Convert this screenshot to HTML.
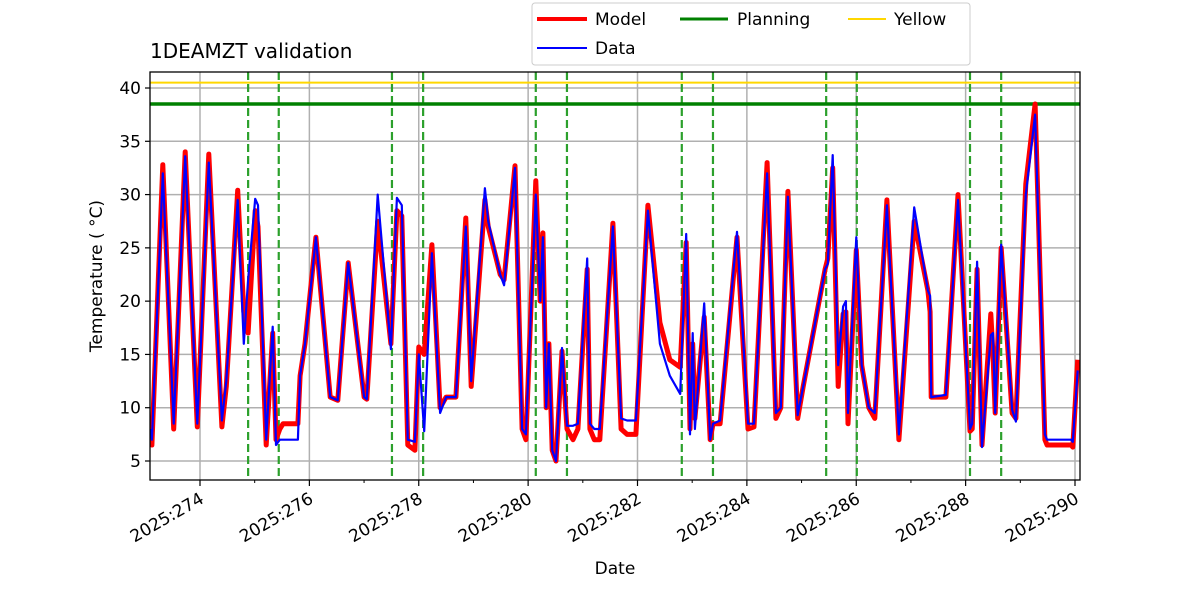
<!DOCTYPE html>
<html><head><meta charset="utf-8"><style>
body{margin:0;background:#fff;}
svg{display:block;font-family:"DejaVu Sans","Liberation Sans",sans-serif;}
</style></head><body>
<svg id="chart" width="1200" height="600" viewBox="0 0 1200 600">
<defs><clipPath id="clip"><rect x="150" y="72" width="930" height="408"/></clipPath></defs>
<g id="grid"></g>
<g id="marks" clip-path="url(#clip)"></g>
<rect x="150" y="72" width="930" height="408" fill="none" stroke="#000" stroke-width="1.3"/>
<g id="axes"></g>
<text x="150" y="58" font-size="20">1DEAMZT validation</text>
<text x="615" y="574" font-size="17" text-anchor="middle">Date</text>
<text transform="translate(102,276) rotate(-90)" font-size="17" text-anchor="middle">Temperature ( °C)</text>
<g>
<rect x="532" y="3" width="438" height="62" rx="3" fill="#fff" stroke="#ccc"/>
<line x1="537" y1="19" x2="587" y2="19" stroke="red" stroke-width="4"/>
<text x="595" y="25" font-size="17">Model</text>
<line x1="537" y1="48" x2="587" y2="48" stroke="blue" stroke-width="2"/>
<text x="595" y="54" font-size="17">Data</text>
<line x1="680" y1="19" x2="728" y2="19" stroke="green" stroke-width="3"/>
<text x="737" y="25" font-size="17">Planning</text>
<line x1="848" y1="19" x2="886" y2="19" stroke="gold" stroke-width="2"/>
<text x="894" y="25" font-size="17">Yellow</text>
</g>
</svg>
<script>
const times=[273.09,273.12,273.32,273.52,273.73,273.95,274.16,274.40,274.48,274.69,274.80,274.88,275.01,275.06,275.21,275.33,275.39,275.46,275.52,275.79,275.83,275.92,276.12,276.38,276.52,276.71,277.00,277.05,277.25,277.49,277.60,277.69,277.80,277.93,278.00,278.10,278.24,278.39,278.50,278.68,278.86,278.96,279.21,279.27,279.49,279.56,279.76,279.89,279.96,280.14,280.22,280.27,280.33,280.38,280.44,280.51,280.62,280.71,280.82,280.91,281.08,281.13,281.21,281.31,281.55,281.70,281.81,281.97,282.19,282.41,282.59,282.78,282.89,282.96,283.01,283.05,283.22,283.33,283.38,283.51,283.82,284.02,284.13,284.37,284.53,284.62,284.75,284.93,285.03,285.43,285.48,285.57,285.67,285.76,285.81,285.85,286.00,286.10,286.23,286.34,286.56,286.78,287.06,287.31,287.35,287.37,287.64,287.86,288.08,288.12,288.21,288.30,288.46,288.50,288.54,288.65,288.85,288.92,289.10,289.27,289.45,289.49,289.93,289.96,290.05];
const model=[9,6.5,32.8,8,34,8.2,33.8,8.2,12,30.4,19,17,28.5,27,6.5,17,7,8,8.5,8.5,13,16,26,11,10.7,23.6,11,10.8,27.5,16,28.5,28,6.5,6,15.7,15,25.3,10,11,11,27.8,12,29.5,27,22.5,22,32.7,8,7,31.3,20,26.4,10,16,6,5,15.3,8,7,8,23,8,7,7,27.3,8,7.5,7.5,29,18,14.5,13.8,25.5,8,16,9,18.5,7,8.5,8.5,26,8,8.2,33,9,10,30.3,9,12,23,24,32.5,12,18.8,19,8.5,24.8,14,10,9,29.5,7,27.5,21,19,11,11,30,7.8,8,23,6.5,18.8,15,9.5,25,9.5,9,31,38.5,7,6.5,6.5,6.3,14.5];
const data=[8,7,32,8.5,33.6,8.5,33,8.8,12.5,29.5,16,22,29.6,29,7,17.6,6.5,7,7,7,13,16,26,11,10.7,23.6,11,10.8,30,15.5,29.7,29,7,6.8,15,7.8,24.5,9.5,11,11,27,12.5,30.6,27.5,22.5,21.5,32.5,8,7.5,30,20,26,10,16,6,5,15.6,8.3,8.3,8.5,24,8.5,8,8,27,9,8.8,8.8,28.5,16,13,11.3,26.3,7.5,17,8,19.8,7,8.5,8.8,26.5,8.5,8.5,32,9.5,10,29.8,9.3,12,23,23.5,33.7,14,19.5,20,9.5,26,14,10,9.5,29,7.5,28.8,21,20.5,11,11.2,29.5,8,8.5,23.7,6.3,16.8,17,9.5,25.3,9.8,8.7,30,37.5,7.5,7,7,6.8,13.5];
const planningTimes=[274.88,275.44,277.51,278.08,280.14,280.71,282.81,283.38,285.45,286.01,288.08,288.65];
const planningLimit=38.5, yellowLimit=40.5;
const yTicks=[5,10,15,20,25,30,35,40];
const xTicks=[274,276,278,280,282,284,286,288,290];
const X=d=>200+(d-274)*54.6875;
const Y=v=>461-(v-5)*10.657;
const NS="http://www.w3.org/2000/svg";
function mk(tag,attrs,parent){const e=document.createElementNS(NS,tag);for(const k in attrs)e.setAttribute(k,attrs[k]);parent.appendChild(e);return e;}
const grid=document.getElementById('grid'),marks=document.getElementById('marks'),axes=document.getElementById('axes');
yTicks.forEach(v=>{
 const g=mk('line',{x1:150,x2:1080,y1:Y(v),y2:Y(v),stroke:'#b0b0b0','stroke-width':1.5},grid);
 
 
 const t=mk('line',{x1:145,x2:150,y1:Y(v),y2:Y(v),stroke:'#000','stroke-width':1.2},axes);
 
 
 const l=mk('text',{x:141,y:Y(v)+6,'font-size':17,'text-anchor':'end'},axes);l.textContent=v;
 
 
});
xTicks.forEach(d=>{
 const x=X(d);
 const g=mk('line',{x1:x,x2:x,y1:72,y2:480,stroke:'#b0b0b0','stroke-width':1.5},grid);
 
 
 const t=mk('line',{x1:x,x2:x,y1:480,y2:486,stroke:'#000','stroke-width':1.2},axes);
 
 
 const l=mk('text',{transform:`translate(${x+5},${502}) rotate(-30)`,'font-size':17,'text-anchor':'end'},axes);l.textContent='2025:'+d;
 
 
 if(d<290){const m=mk('line',{x1:X(d+1),x2:X(d+1),y1:480,y2:483,stroke:'#000','stroke-width':1},axes);
 
 }
});
planningTimes.forEach(d=>{
 const l=mk('line',{x1:X(d),x2:X(d),y1:72,y2:480,stroke:'#2ca02c','stroke-width':2.2,'stroke-dasharray':'8,4'},marks);
 
 
});
const yl=mk('line',{x1:150,x2:1080,y1:Y(yellowLimit),y2:Y(yellowLimit),stroke:'gold','stroke-width':2},marks);


const pl=mk('line',{x1:150,x2:1080,y1:Y(planningLimit),y2:Y(planningLimit),stroke:'green','stroke-width':3.5},marks);


const pts=a=>a.map((v,i)=>X(times[i]).toFixed(1)+','+Y(v).toFixed(1)).join(' ');
const mp=mk('polyline',{points:pts(model),fill:'none',stroke:'red','stroke-width':5,'stroke-linejoin':'round'},marks);


const dp=mk('polyline',{points:pts(data),fill:'none',stroke:'blue','stroke-width':2.2,'stroke-linejoin':'round'},marks);


</script>
</body></html>
